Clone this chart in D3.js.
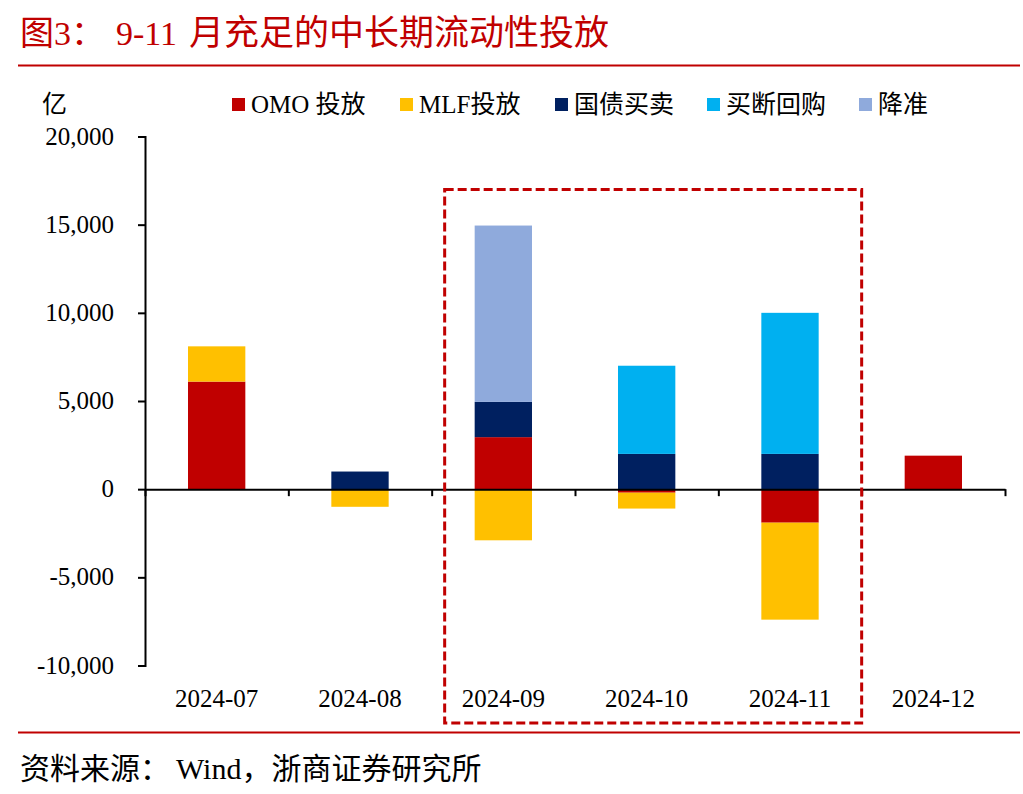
<!DOCTYPE html>
<html>
<head>
<meta charset="utf-8">
<script src="https://cdn.jsdelivr.net/npm/d3@7"></script>
<style>
  body { margin: 0; background: #fff; }
  text { font-family: "Liberation Serif", "Noto Sans CJK SC", serif; }
</style>
</head>
<body>
<svg id="chart" width="1023" height="794"></svg>
<script>
// data (亿元)
const months = ["2024-07", "2024-08", "2024-09", "2024-10", "2024-11", "2024-12"];
const omo = [6100, 0, 2950, -200, -1900, 1900];
const mlf = [2000, -1000, -2900, -900, -5500, 0];
const bond = [0, 1000, 2000, 2000, 2000, 0];
const outright = [0, 0, 0, 5000, 8000, 0];
const rrr = [0, 0, 10000, 0, 0, 0];
const seriesNames = ["OMO 投放", "MLF投放", "国债买卖", "买断回购", "降准"];
const yTicks = [-10000, -5000, 0, 5000, 10000, 15000, 20000];

const colors = ["#C00000", "#FFC000", "#002060", "#00B0F0", "#8FAADC"];
const red = "#C00000";

const svg = d3.select("#chart");

const rows = months.map((m, i) => ({
  month: m, s0: omo[i], s1: mlf[i], s2: bond[i], s3: outright[i], s4: rrr[i]
}));
const keys = ["s0", "s1", "s2", "s3", "s4"];
const stacked = d3.stack().keys(keys).offset(d3.stackOffsetDiverging)(rows);

const x = d3.scaleBand().domain(months).range([145, 1005])
  .paddingInner(0.6).paddingOuter(0.3);
const xb = d3.scaleLinear().domain([0, months.length]).range([145, 1005]);
const y = d3.scaleLinear().domain([-10000, 20000]).range([665.5, 136.5]);

const fmt = d3.formatLocale({ decimal: ".", thousands: ",", grouping: [3], currency: ["", ""], minus: "-" }).format(",");

// title
const title = svg.append("text").attr("y", 45).attr("fill", red).style("font-size", "34px");
title.append("tspan").attr("x", 20).text("图3：");
title.append("tspan").attr("x", 116).text("9-11");
title.append("tspan").attr("x", 189).style("font-size", "35px").text("月充足的中长期流动性投放");

svg.append("line").attr("x1", 18).attr("x2", 1020).attr("y1", 65.5).attr("y2", 65.5)
  .attr("stroke", red).attr("stroke-width", 2);

// unit
svg.append("text").attr("x", 42).attr("y", 113).style("font-size", "25px").text("亿");

// legend
const legendX = [232, 400, 555, 707, 859];
const lg = svg.append("g").selectAll("g").data(seriesNames).join("g")
  .attr("transform", (d, i) => `translate(${legendX[i]},98)`);
lg.append("rect").attr("width", 13).attr("height", 13).attr("fill", (d, i) => colors[i]);
lg.append("text").attr("x", 19).attr("y", 15).style("font-size", "25px").text(d => d);

// bars
svg.append("g").selectAll("g").data(stacked).join("g")
  .attr("fill", (d, i) => colors[i])
  .selectAll("rect").data(d => d).join("rect")
  .attr("x", d => x(d.data.month))
  .attr("width", x.bandwidth())
  .attr("y", d => y(Math.max(d[0], d[1])))
  .attr("height", d => Math.abs(y(d[0]) - y(d[1])));

// y axis
const yAxis = svg.append("g").attr("transform", "translate(145,0)")
  .call(d3.axisLeft(y).tickValues(yTicks).tickSize(7).tickPadding(24).tickFormat(fmt));
yAxis.selectAll("path, line").attr("stroke", "#000").attr("stroke-width", 2);
yAxis.selectAll("text").style("font-size", "25px").attr("fill", "#000")
  .style("font-family", "Liberation Serif").attr("dy", "0.3em");

// x axis line with boundary ticks
const xAxis = svg.append("g").attr("transform", `translate(0,${y(0)})`)
  .call(d3.axisBottom(xb).tickValues(d3.range(months.length + 1))
    .tickSize(7).tickSizeOuter(0).tickFormat(""));
xAxis.selectAll("path, line").attr("stroke", "#000").attr("stroke-width", 2);

// x labels
svg.append("g").selectAll("text").data(months).join("text")
  .attr("x", d => x(d) + x.bandwidth() / 2)
  .attr("y", 707)
  .attr("text-anchor", "middle")
  .style("font-size", "25px")
  .text(d => d);

// highlight box for 9-11
svg.append("rect")
  .attr("x", xb(2) + 13).attr("y", y(17000))
  .attr("width", xb(5) - xb(2) - 13).attr("height", 723 - y(17000))
  .attr("fill", "none").attr("stroke", red).attr("stroke-width", 3)
  .attr("stroke-dasharray", "9,4");

// bottom line + source
svg.append("line").attr("x1", 18).attr("x2", 1020).attr("y1", 732.5).attr("y2", 732.5)
  .attr("stroke", red).attr("stroke-width", 2);
const src = svg.append("text").attr("y", 779).style("font-size", "30px");
src.append("tspan").attr("x", 20).text("资料来源：");
src.append("tspan").attr("x", 176).text("Wind，浙商证券研究所");
</script>
</body>
</html>
